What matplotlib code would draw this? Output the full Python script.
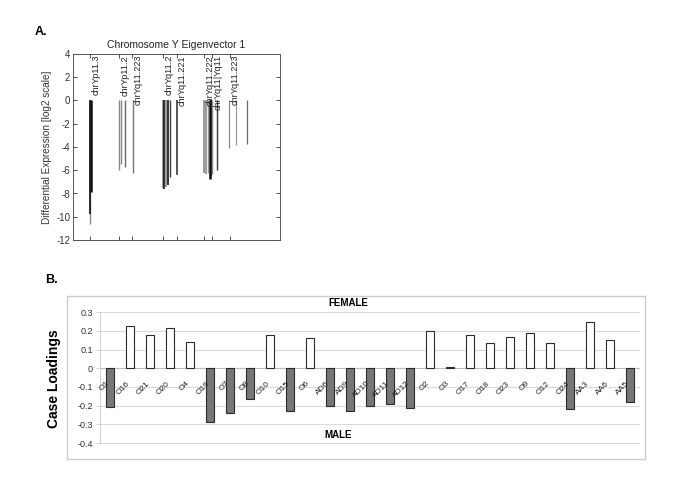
import matplotlib
matplotlib.use('Agg')
import matplotlib.pyplot as plt
from matplotlib.patches import Rectangle

plt.rcParams['font.family'] = ['Liberation Sans', 'DejaVu Sans']
plt.rcParams['axes.unicode_minus'] = False

# ---- panel A data: probe position along chrY (arbitrary units) and log2 differential expression
probe_pos = [8.2, 8.3, 8.6, 22.2, 23.3, 25.3, 28.8,
             43.5, 44.1, 44.9, 45.7, 46.9, 50.1,
             63.3, 64.1, 65.4, 66.3, 66.7, 67.3, 69.7,
             75.4, 78.6, 83.9]
probe_val = [-10.6, -9.8, -7.9, -6.0, -5.5, -5.75, -6.25,
             -7.5, -7.6, -7.4, -7.25, -6.6, -6.4,
             -6.25, -6.3, -6.2, -6.75, -6.5, -6.3, -6.0,
             -4.1, -3.85, -3.7]
probe_shade = ['#8a8a8a', '#111111', '#111111', '#8a8a8a', '#8a8a8a', '#6a6a6a', '#7a7a7a',
               '#8a8a8a', '#111111', '#8a8a8a', '#111111', '#3a3a3a', '#3a3a3a',
               '#8a8a8a', '#8a8a8a', '#9a9a9a', '#111111', '#111111', '#8a8a8a', '#3a3a3a',
               '#8a8a8a', '#9a9a9a', '#6a6a6a']
probe_lw = [1.0, 1.2, 1.8, 1.0, 1.0, 1.0, 1.0,
            1.2, 1.2, 1.2, 1.2, 1.0, 1.2,
            1.2, 1.2, 1.0, 1.8, 1.2, 1.0, 1.0,
            0.9, 0.9, 0.9]

band_pos = [8.2, 22.2, 28.6, 43.5, 50.1, 63.4, 67.1, 75.7]
band_names = ['chrYp11.3', 'chrYp11.2', 'chrYq11.223', 'chrYq11.2',
              'chrYq11.221', 'chrYq11.222', 'chrYq11|Yq11', 'chrYq11.223']

# ---- panel B data: case loadings
cases = ['O1', 'O16', 'O21', 'O20', 'O4', 'O19', 'O7', 'O8', 'O10', 'O15', 'O6',
         'AD6', 'AD9', 'AD10', 'AD11', 'AD12', 'O2', 'O3', 'O17', 'O18', 'O23',
         'O9', 'O12', 'O24', 'AA3', 'AA6', 'AA5']
loadings = [-0.207, 0.226, 0.18, 0.214, 0.139, -0.285, -0.24, -0.163, 0.176, -0.228, 0.16,
            -0.2, -0.228, -0.2, -0.19, -0.214, 0.201, 0.007, 0.176, 0.134, 0.169,
            0.187, 0.134, -0.219, 0.246, 0.153, -0.178]
y_ticks_b = [0.3, 0.2, 0.1, 0, -0.1, -0.2, -0.3, -0.4]

W, H = 685, 490
fig = plt.figure(figsize=(W / 100, H / 100), dpi=100)


def fx(px):
    return px / W


def fy(py):
    return (H - py) / H


# ================= panel A =================
axA = fig.add_axes([fx(73), fy(240), fx(280) - fx(73), fy(54) - fy(240)])
for x, v, c, lw in zip(probe_pos, probe_val, probe_shade, probe_lw):
    axA.vlines(x, v, 0, colors=c, linewidth=lw)
for x, name in zip(band_pos, band_names):
    axA.text(x + 0.6, 3.92, name, rotation=90, ha='left', va='top', fontsize=6.6, color='#222222')

axA.set_xlim(0, 100)
axA.set_ylim(-12, 4)
axA.set_yticks(range(-12, 5, 2))
axA.set_xticks(band_pos)
axA.set_xticklabels([])
axA.tick_params(direction='in', top=True, right=True, length=3, width=0.6,
                labelsize=7, colors='#333333', pad=2)
for s in axA.spines.values():
    s.set_color('#555555')
    s.set_linewidth(0.7)
axA.set_title('Chromosome Y Eigenvector 1', fontsize=7.5, color='#222222', pad=4)
axA.set_ylabel('Differential Expression [log2 scale]', fontsize=7.2, color='#333333', labelpad=3)

fig.text(fx(35), fy(35), 'A.', fontsize=9, fontweight='bold', ha='left', va='baseline')

# ================= panel B =================
fig.add_artist(Rectangle((fx(67.3), fy(459)), fx(645) - fx(67.3), fy(296) - fy(459),
                         transform=fig.transFigure, fill=False, edgecolor='#cccccc', linewidth=1.0))

axB = fig.add_axes([fx(100), fy(450), fx(640) - fx(100), fy(300) - fy(450)])
axB.set_xlim(-0.5, len(cases) - 0.5)
axB.set_ylim(-0.437, 0.365)
for t in y_ticks_b:
    axB.axhline(t, color='#bdbdbd' if t == 0 else '#dadada', linewidth=0.8, zorder=0)

xs = list(range(len(cases)))
face = ['#777777' if v < 0 else 'white' for v in loadings]
axB.bar(xs, loadings, width=0.42, color=face, edgecolor='#2b2b2b', linewidth=0.8, zorder=2)

for i, name in enumerate(cases):
    axB.text(i - 0.2, -0.062, name, rotation=45, ha='right', va='top',
             rotation_mode='anchor', fontsize=6, color='#222222', zorder=3)

axB.set_yticks(y_ticks_b)
axB.set_yticklabels(['%g' % t for t in y_ticks_b])
axB.set_xticks([])
axB.tick_params(axis='y', direction='out', length=3, width=0.6, color='#cccccc',
                labelsize=6.5, labelcolor='#333333', pad=2)
for k in ['top', 'right', 'bottom']:
    axB.spines[k].set_visible(False)
axB.spines['left'].set_color('#d0d0d0')
axB.spines['left'].set_linewidth(0.7)
axB.spines['left'].set_bounds(-0.4, 0.3)

axB.text(11.9, 0.349, 'FEMALE', ha='center', va='center', fontsize=7, fontweight='bold')
axB.text(11.43, -0.358, 'MALE', ha='center', va='center', fontsize=7, fontweight='bold')

fig.text(fx(54), fy(379), 'Case Loadings', rotation=90, ha='center', va='center',
         fontsize=10, fontweight='bold')
fig.text(fx(45), fy(283), 'B.', fontsize=9, fontweight='bold', ha='left', va='baseline')

fig.savefig('out.png', dpi=100, facecolor='white')
